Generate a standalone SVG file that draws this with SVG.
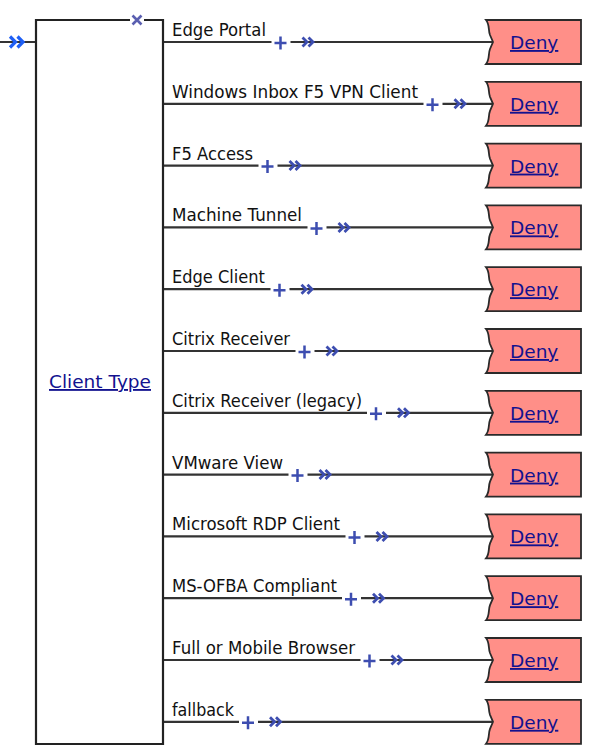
<svg xmlns="http://www.w3.org/2000/svg" xmlns:xlink="http://www.w3.org/1999/xlink" width="600" height="755" viewBox="0 0 600 755">
<style>
.wire{stroke:#333;stroke-width:2.2;fill:none}
.lbl{font-family:"DejaVu Sans","Liberation Sans",sans-serif;font-size:17.5px;fill:#111}
.link{font-family:"DejaVu Sans","Liberation Sans",sans-serif;font-size:18.5px;fill:#12128f;text-decoration:underline}
.plus{stroke:#3d4db0;stroke-width:2.5;fill:none}
.chev{stroke:#3d4db0;stroke-width:2.8;fill:none;stroke-linejoin:miter}
.deny{fill:#ff8f88;stroke:#2a2a2a;stroke-width:1.8}
</style>
<defs>
<path id="plus" class="plus" d="M-6,0 H6 M0,-6.5 V6.5"/>
<path id="chev" class="chev" d="M0,-4.5 L4.5,0 L0,4.5 M6,-4.5 L10.5,0 L6,4.5"/>
<path id="denyShape" class="deny" d="M0,-22 H95 V22 H0 C4,17 2,12 4,7 L7,0 L4,-7 C2,-12 4,-17 0,-22 Z"/>
</defs>
<rect width="600" height="755" fill="#fff"/>
<g id="connectors">
<path class="wire" d="M0,42 H36"/>
<path d="M10,36.5 L15.5,42 L10,47.5 M17.5,36.5 L23,42 L17.5,47.5" stroke="#1f5ff5" stroke-width="3.2" fill="none"/>
<g id="row-wires">
<path class="wire" d="M163,42 H271.5 M290.5,42 H493"/>
<path class="wire" d="M163,103.8 H423.5 M442.5,103.8 H493"/>
<path class="wire" d="M163,165.6 H258.5 M277.5,165.6 H493"/>
<path class="wire" d="M163,227.4 H307.5 M326.5,227.4 H493"/>
<path class="wire" d="M163,289.2 H270.5 M289.5,289.2 H493"/>
<path class="wire" d="M163,351 H295.5 M314.5,351 H493"/>
<path class="wire" d="M163,412.8 H367 M386,412.8 H493"/>
<path class="wire" d="M163,474.6 H288.5 M307.5,474.6 H493"/>
<path class="wire" d="M163,536.4 H345.5 M364.5,536.4 H493"/>
<path class="wire" d="M163,598.2 H342 M361,598.2 H493"/>
<path class="wire" d="M163,660 H360.5 M379.5,660 H493"/>
<path class="wire" d="M163,721.8 H239 M258,721.8 H493"/>
</g>
<g id="plus-marks">
<use xlink:href="#plus" x="280.5" y="43"/>
<use xlink:href="#plus" x="432.5" y="104.8"/>
<use xlink:href="#plus" x="267.5" y="166.6"/>
<use xlink:href="#plus" x="316.5" y="228.4"/>
<use xlink:href="#plus" x="279.5" y="290.2"/>
<use xlink:href="#plus" x="304.5" y="352"/>
<use xlink:href="#plus" x="376" y="413.8"/>
<use xlink:href="#plus" x="297.5" y="475.6"/>
<use xlink:href="#plus" x="354.5" y="537.4"/>
<use xlink:href="#plus" x="351" y="599.2"/>
<use xlink:href="#plus" x="369.5" y="661"/>
<use xlink:href="#plus" x="248" y="722.8"/>
</g>
<g id="chevrons">
<use xlink:href="#chev" x="302.5" y="42"/>
<use xlink:href="#chev" x="454.5" y="103.8"/>
<use xlink:href="#chev" x="289.5" y="165.6"/>
<use xlink:href="#chev" x="338.5" y="227.4"/>
<use xlink:href="#chev" x="301.5" y="289.2"/>
<use xlink:href="#chev" x="326.5" y="351"/>
<use xlink:href="#chev" x="398" y="412.8"/>
<use xlink:href="#chev" x="319.5" y="474.6"/>
<use xlink:href="#chev" x="376.5" y="536.4"/>
<use xlink:href="#chev" x="373" y="598.2"/>
<use xlink:href="#chev" x="391.5" y="660"/>
<use xlink:href="#chev" x="270" y="721.8"/>
</g>
</g>
<g id="client-type">
<rect x="36" y="20" width="127" height="724" fill="#fff"/>
<path d="M130,20 H36 V744 H163 V20 H144" stroke="#222" stroke-width="2.2" fill="none"/>
<path d="M132.5,15.5 L141.5,24.5 M141.5,15.5 L132.5,24.5" stroke="#5a5fb0" stroke-width="2.6"/>
<text class="link" x="100" y="388" text-anchor="middle" textLength="102" lengthAdjust="spacingAndGlyphs">Client Type</text>
</g>
<g id="labels">
<text class="lbl" x="172" y="36" textLength="94" lengthAdjust="spacingAndGlyphs">Edge Portal</text>
<text class="lbl" x="172" y="97.8" textLength="246" lengthAdjust="spacingAndGlyphs">Windows Inbox F5 VPN Client</text>
<text class="lbl" x="172" y="159.6" textLength="81" lengthAdjust="spacingAndGlyphs">F5 Access</text>
<text class="lbl" x="172" y="221.4" textLength="130" lengthAdjust="spacingAndGlyphs">Machine Tunnel</text>
<text class="lbl" x="172" y="283.2" textLength="93" lengthAdjust="spacingAndGlyphs">Edge Client</text>
<text class="lbl" x="172" y="345" textLength="118" lengthAdjust="spacingAndGlyphs">Citrix Receiver</text>
<text class="lbl" x="172" y="406.8" textLength="190" lengthAdjust="spacingAndGlyphs">Citrix Receiver (legacy)</text>
<text class="lbl" x="172" y="468.6" textLength="111" lengthAdjust="spacingAndGlyphs">VMware View</text>
<text class="lbl" x="172" y="530.4" textLength="168" lengthAdjust="spacingAndGlyphs">Microsoft RDP Client</text>
<text class="lbl" x="172" y="592.2" textLength="165" lengthAdjust="spacingAndGlyphs">MS-OFBA Compliant</text>
<text class="lbl" x="172" y="654" textLength="183" lengthAdjust="spacingAndGlyphs">Full or Mobile Browser</text>
<text class="lbl" x="172" y="715.8" textLength="62" lengthAdjust="spacingAndGlyphs">fallback</text>
</g>
<g id="deny-1"><use xlink:href="#denyShape" x="486" y="42"/><text class="link" x="510" y="49">Deny</text></g>
<g id="deny-2"><use xlink:href="#denyShape" x="486" y="103.8"/><text class="link" x="510" y="110.8">Deny</text></g>
<g id="deny-3"><use xlink:href="#denyShape" x="486" y="165.6"/><text class="link" x="510" y="172.6">Deny</text></g>
<g id="deny-4"><use xlink:href="#denyShape" x="486" y="227.4"/><text class="link" x="510" y="234.4">Deny</text></g>
<g id="deny-5"><use xlink:href="#denyShape" x="486" y="289.2"/><text class="link" x="510" y="296.2">Deny</text></g>
<g id="deny-6"><use xlink:href="#denyShape" x="486" y="351"/><text class="link" x="510" y="358">Deny</text></g>
<g id="deny-7"><use xlink:href="#denyShape" x="486" y="412.8"/><text class="link" x="510" y="419.8">Deny</text></g>
<g id="deny-8"><use xlink:href="#denyShape" x="486" y="474.6"/><text class="link" x="510" y="481.6">Deny</text></g>
<g id="deny-9"><use xlink:href="#denyShape" x="486" y="536.4"/><text class="link" x="510" y="543.4">Deny</text></g>
<g id="deny-10"><use xlink:href="#denyShape" x="486" y="598.2"/><text class="link" x="510" y="605.2">Deny</text></g>
<g id="deny-11"><use xlink:href="#denyShape" x="486" y="660"/><text class="link" x="510" y="667">Deny</text></g>
<g id="deny-12"><use xlink:href="#denyShape" x="486" y="721.8"/><text class="link" x="510" y="728.8">Deny</text></g>
</svg>
